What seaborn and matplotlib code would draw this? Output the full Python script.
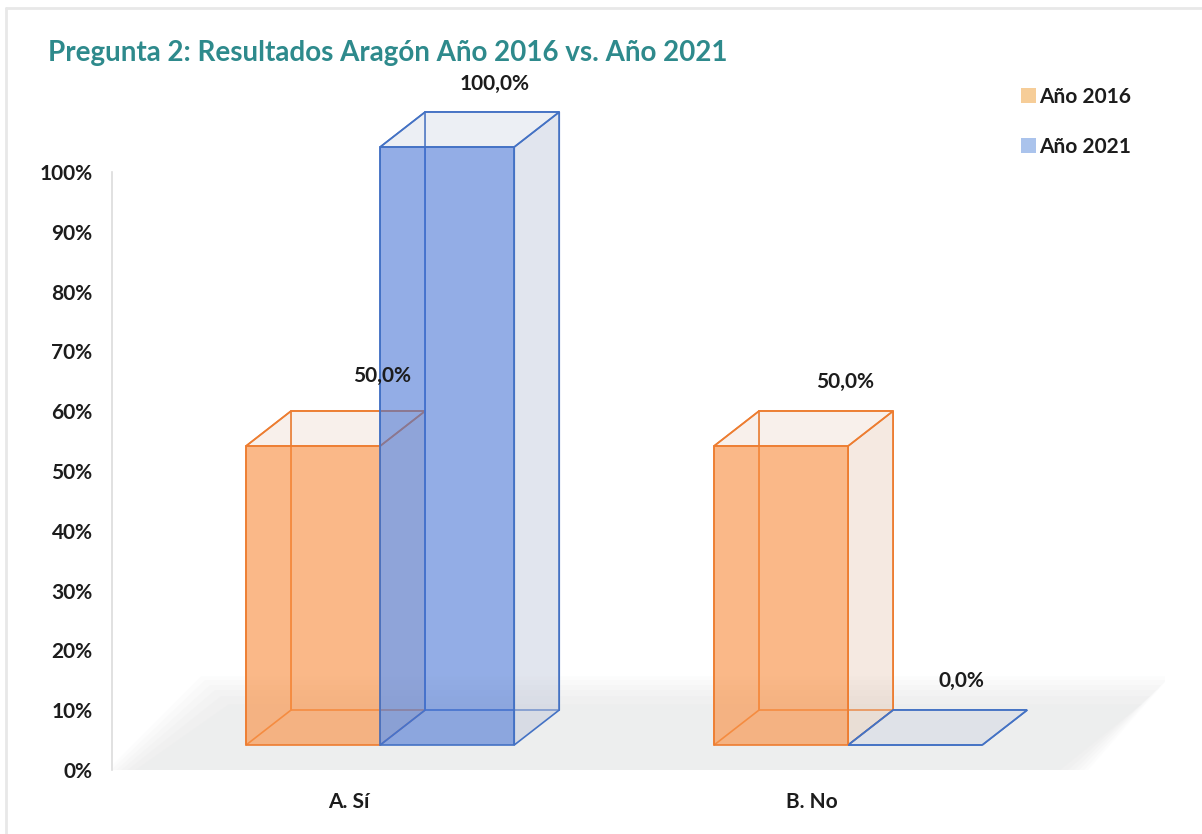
import numpy as np
import matplotlib
matplotlib.use('Agg')
import matplotlib.pyplot as plt
from matplotlib.lines import Line2D
from matplotlib.patches import Polygon
import seaborn as sn
import pandas as pd

categorias = ['A. Sí', 'B. No']
anios = ['Año 2016', 'Año 2021']
valores_2016 = [50.0, 50.0]
valores_2021 = [100.0, 0.0]
etiquetas_y = ['0%', '10%', '20%', '30%', '40%', '50%', '60%', '70%', '80%', '90%', '100%']

df = pd.DataFrame({
    'respuesta': categorias * 2,
    'anio': [anios[0]] * 2 + [anios[1]] * 2,
    'valor': valores_2016 + valores_2021,
})

W, H = 1202, 834
naranja = '#ED7D31'
azul = '#4472C4'
negro = '#1c1c1c'

sn.set_style('white')
plt.rcParams['font.family'] = ['Lato', 'DejaVu Sans']
plt.rcParams['font.weight'] = 'bold'

fig = plt.figure(figsize=(W / 100, H / 100), dpi=100)
ax = fig.add_axes([112 / W, 1 - 770 / H, 1053 / W, 598 / H])

sn.barplot(data=df, x='respuesta', y='valor', hue='anio', palette=[naranja, azul],
           width=0.573, saturation=1, ax=ax, zorder=3)

ax.set_xlim(-0.573, 1.677)
ax.set_ylim(0, 100)

px_x = 1 / 468     # data units per pixel
px_y = 100 / 598
base = 25 * px_y   # the 3d floor lifts the front of the bars
dx, dy = 45 * px_x, 35 * px_y

# floor, soft edge done with stacked polygons
for grow, alpha in [(6, 0.1), (2, 0.14), (-3, 0.18), (-8, 0.22), (-14, 0.26), (-22, 0.3)]:
    suelo = np.array([[-0.57 - grow * px_x, 0], [1.50 + grow * px_x, 0],
                      [1.675 + grow * px_x, 14.7 + grow * px_y], [-0.37 - grow * px_x, 14.7 + grow * px_y]])
    ax.add_patch(Polygon(suelo, closed=True, fc='#e9eaeb', ec='none', alpha=alpha, zorder=1))

fills = [(248 / 255, 148 / 255, 74 / 255, 0.66), (70 / 255, 115 / 255, 212 / 255, 0.58)]
sides = [(225 / 255, 190 / 255, 165 / 255, 0.33), (190 / 255, 198 / 255, 218 / 255, 0.45)]
tops = [(225 / 255, 190 / 255, 165 / 255, 0.22), (190 / 255, 198 / 255, 218 / 255, 0.28)]
edges = [naranja, azul]
z_front = [3, 4]

def cara(puntos, fc, ec, z):
    ax.add_patch(Polygon(puntos, closed=True, fc=fc, ec=ec, lw=1.2, zorder=z, clip_on=False))

for i, cont in enumerate(ax.containers):
    for bar in cont:
        x0 = bar.get_x()
        x1 = x0 + bar.get_width()
        top = base + bar.get_height()
        bar.set_y(base)
        bar.set_facecolor(fills[i])
        bar.set_edgecolor(edges[i])
        bar.set_linewidth(1.2)
        bar.set_clip_on(False)
        bar.set_zorder(z_front[i])
        # back, right, left, top faces of the box
        cara([(x0 + dx, base + dy), (x1 + dx, base + dy), (x1 + dx, top + dy), (x0 + dx, top + dy)],
             (1, 1, 1, 0), edges[i], 2)
        cara([(x1, base), (x1 + dx, base + dy), (x1 + dx, top + dy), (x1, top)], sides[i], edges[i], 2)
        cara([(x0, base), (x0 + dx, base + dy), (x0 + dx, top + dy), (x0, top)], (1, 1, 1, 0), edges[i], 2)
        cara([(x0, top), (x1, top), (x1 + dx, top + dy), (x0 + dx, top + dy)], tops[i], edges[i], 2)

# data labels, each one moved by hand as in the original
desplaza = [[(69, 70), (64, 64)], [(47, 63), (46, 64)]]
for i, cont in enumerate(ax.containers):
    for j, bar in enumerate(cont):
        ax.annotate(f'{bar.get_height():.1f}%'.replace('.', ','),
                    (bar.get_x() + bar.get_width() / 2, base + bar.get_height()),
                    xytext=(desplaza[i][j][0] * 0.72, desplaza[i][j][1] * 0.72),
                    textcoords='offset points', ha='center', va='center',
                    fontsize=15, color=negro, annotation_clip=False, zorder=6)

ax.set_yticks(np.arange(0, 101, 10), etiquetas_y)
ax.set_xticks([0 - 31 * px_x, 1 - 36 * px_x], categorias)
ax.tick_params(axis='y', length=0, pad=14, labelsize=15, labelcolor=negro)
ax.tick_params(axis='x', length=0, pad=15.5, labelsize=15, labelcolor=negro)
ax.set_xlabel('')
ax.set_ylabel('')

sn.despine(ax=ax, top=True, right=True, bottom=True)
ax.spines['left'].set_color('#dcdcdc')
ax.spines['left'].set_linewidth(1.2)
ax.patch.set_alpha(0)

sn.move_legend(ax, 'upper left', bbox_to_anchor=(1002 / W, 1 - 68 / H),
               bbox_transform=fig.transFigure, frameon=False, title=None, fontsize=15,
               labelspacing=1.45, handlelength=0.75, handleheight=0.75, handletextpad=0.15,
               labelcolor=negro)
for h, c in zip(ax.get_legend().legend_handles, ['#F6CD98', '#AAC3EC']):
    h.set_facecolor(c)
    h.set_edgecolor('none')

fig.text(48 / W, 1 - 53 / H, 'Pregunta 2: Resultados Aragón Año 2016 vs. Año 2021',
         fontsize=20, color='#2E8A8C', va='center', ha='left')

# picture frame of the pasted chart
fig.add_artist(Line2D([6 / W, 6 / W], [0, 1 - 8 / H], color='#e8e8e8', lw=2))
fig.add_artist(Line2D([6 / W, 1], [1 - 8 / H, 1 - 8 / H], color='#e8e8e8', lw=2))

plt.savefig('out.png', dpi=100)
